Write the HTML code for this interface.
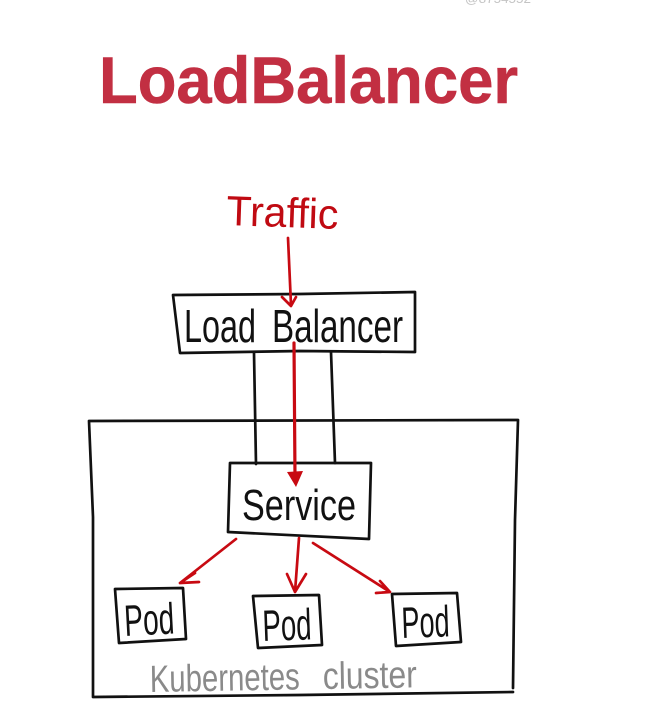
<!DOCTYPE html>
<html><head><meta charset="utf-8"><style>
html,body{margin:0;padding:0;background:#fff}
svg{display:block}
text{font-family:"Liberation Sans",sans-serif}
</style></head><body>
<svg width="658" height="721" viewBox="0 0 658 721" xmlns="http://www.w3.org/2000/svg">
<rect width="658" height="721" fill="#fff"/>
<text x="465" y="3" font-size="13" fill="#c4c4c4" textLength="66" lengthAdjust="spacingAndGlyphs">@8754552</text>
<text x="99" y="103" font-size="66" font-weight="bold" fill="#c22f42" stroke="#c22f42" stroke-width="0.6" textLength="419" lengthAdjust="spacingAndGlyphs">LoadBalancer</text>

<g fill="none" stroke="#111" stroke-width="2.7" stroke-linejoin="round" stroke-linecap="round">
<path d="M173 295 L300 294 L415 292 L415 352 L300 351 L180 353 Z"/>
<path d="M254 353 L256 464 M331 352 L335 463"/>
<path d="M89 421 L518 420 M89 421 L93 517 L93 697 L300 695 L513 692 M518 420 L515 520 L513 688"/>
<path d="M230 463 L371 463 L369 539 L228 532 Z"/>
<path d="M115 589 L183 588 L186 639 L119 643 Z"/>
<path d="M253 596 L319 595 L322 645 L258 648 Z"/>
<path d="M392 594 L457 593 L461 642 L396 646 Z"/>
</g>

<g fill="none" stroke="#c80a12" stroke-width="2.7" stroke-linecap="round" stroke-linejoin="round">
<path d="M288 238 L291 305 M282 297 L291 306 L296 297"/>
<path d="M294 343 L295 478" stroke-width="3.2"/>
<path d="M236 539 L180 583 M195 573 L180 583 L199 582"/>
<path d="M299 538 L295 592 M287 574 L295 592 L306 574"/>
<path d="M313 543 L390 592 M380 581 L390 592 L376 593"/>
</g>
<path d="M287 472 L303 471 L296 487 Z" fill="#c80a12"/>

<text x="226" y="225" font-size="42" fill="#c00a12" textLength="112" lengthAdjust="spacingAndGlyphs" transform="rotate(2 226 225)">Traffic</text>
<g fill="#111">
<text x="184" y="342" font-size="46" textLength="72" lengthAdjust="spacingAndGlyphs">Load</text>
<text x="272" y="342" font-size="46" textLength="131" lengthAdjust="spacingAndGlyphs">Balancer</text>
<text x="242" y="520" font-size="44" textLength="114" lengthAdjust="spacingAndGlyphs">Service</text>
<text x="125" y="636" font-size="44" textLength="50" lengthAdjust="spacingAndGlyphs" transform="rotate(-3 125 636)">Pod</text>
<text x="263" y="641" font-size="44" textLength="49" lengthAdjust="spacingAndGlyphs" transform="rotate(-2 263 641)">Pod</text>
<text x="402" y="638" font-size="44" textLength="48" lengthAdjust="spacingAndGlyphs" transform="rotate(-2 402 638)">Pod</text>
</g>
<g fill="#8a8a8a" font-size="38">
<text x="150" y="692" textLength="150" lengthAdjust="spacingAndGlyphs" transform="rotate(-1 150 692)">Kubernetes</text>
<text x="323" y="689" textLength="94" lengthAdjust="spacingAndGlyphs" transform="rotate(-1 323 689)">cluster</text>
</g>
</svg>
</body></html>
